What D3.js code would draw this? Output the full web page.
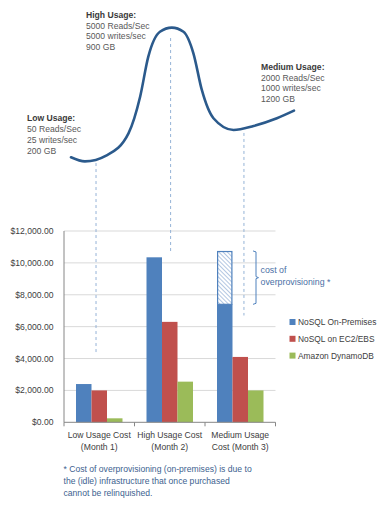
<!DOCTYPE html>
<html><head><meta charset="utf-8">
<script src="https://cdn.jsdelivr.net/npm/d3@7"></script>
<style>
html,body{margin:0;padding:0;background:#fff;}
text{font-family:"Liberation Sans",Arial,sans-serif;}
</style></head>
<body>
<svg id="c" width="384" height="512"></svg>
<script>
// ---- data ----
const categories = ["Low Usage Cost (Month 1)", "High Usage Cost (Month 2)", "Medium Usage Cost (Month 3)"];
const catLines = [["Low Usage Cost","(Month 1)"],["High Usage Cost","(Month 2)"],["Medium Usage","Cost (Month 3)"]];
const seriesNames = ["NoSQL On-Premises", "NoSQL on EC2/EBS", "Amazon DynamoDB"];
const onPremises = [2400, 10350, 7400];
const ec2ebs = [2000, 6300, 4100];
const dynamo = [250, 2550, 2000];
const overprovisionTop = [null, null, 10750];
const yTicks = [0, 2000, 4000, 6000, 8000, 10000, 12000];
// usage curve (day of quarter, relative usage level)
const curveDay = [0, 5.6, 14.4, 23.2, 27.9, 31.2, 35.9, 40.7, 45.4, 49.4, 52.8, 57.5, 65.6, 73.7, 83.1, 90];
const curveUsage = [5.5, 2.6, 6.9, 22.6, 48.8, 77.4, 95.2, 98.1, 95.2, 79.8, 53.6, 33.4, 25, 27.9, 33.4, 38.8];
// dashed connector lines: day, usage at top, dollar value at bottom
const linkDay = [10.1, 40.2, 69.8];
const linkUsage = [1.4, 90.7, 22.9];
const linkDollar = [4250, 10650, 6700];
const usageNotes = [
  ["Low Usage:", "50 Reads/Sec", "25 writes/sec", "200 GB"],
  ["High Usage:", "5000 Reads/Sec", "5000 writes/sec", "900 GB"],
  ["Medium Usage:", "2000 Reads/Sec", "1000 writes/sec", "1200 GB"]
];
const footnote = ["* Cost of overprovisioning (on-premises) is due to", "the (idle) infrastructure that once purchased", "cannot be relinquished."];
const colors = ["#4f81bd", "#c0504d", "#9bbb59"];

const svg = d3.select("#c");
const defs = svg.append("defs");
const pat = defs.append("pattern").attr("id","hatch").attr("patternUnits","userSpaceOnUse")
  .attr("width",3).attr("height",3).attr("patternTransform","rotate(-45)");
pat.append("rect").attr("width",3).attr("height",3).attr("fill","#fff");
pat.append("line").attr("x1",0.5).attr("y1",0).attr("x2",0.5).attr("y2",3).attr("stroke","#b3c7e2").attr("stroke-width",1);

// ---- bar chart ----
const plotL = 64, plotR = 275.5, plotT = 231, plotB = 422.3;
const x0 = d3.scaleBand().domain(categories).range([plotL, plotR]).paddingInner(0).paddingOuter(0);
const groupPad = 12;
const x1 = d3.scaleBand().domain(seriesNames).range([groupPad, x0.bandwidth() - groupPad]);
const y = d3.scaleLinear().domain([0, 12000]).range([plotB, plotT]);

// grid
svg.append("g").selectAll("line").data(yTicks.filter(d => d > 0)).join("line")
  .attr("x1", plotL).attr("x2", plotR).attr("y1", d => y(d)).attr("y2", d => y(d))
  .attr("stroke", "#d9d9d9").attr("stroke-width", 1);

// y labels
svg.append("g").selectAll("text").data(yTicks).join("text")
  .attr("x", 53.5).attr("y", d => y(d)).attr("dy", "0.35em").attr("text-anchor", "end")
  .attr("font-size", 8.6).attr("fill", "#404040").text(d => d3.format("$,.2f")(d));

const allSeries = [onPremises, ec2ebs, dynamo];
const bars = svg.append("g");
categories.forEach((c, ci) => {
  allSeries.forEach((s, si) => {
    const bx = x0(c) + x1(seriesNames[si]);
    bars.append("rect").attr("x", bx).attr("width", x1.bandwidth())
      .attr("y", y(s[ci])).attr("height", y(0) - y(s[ci])).attr("fill", colors[si]);
  });
  if (overprovisionTop[ci] != null) {
    const bx = x0(c) + x1(seriesNames[0]);
    bars.append("rect").attr("x", bx + 0.6).attr("width", x1.bandwidth() - 1.2)
      .attr("y", y(overprovisionTop[ci]) + 0.6).attr("height", y(onPremises[ci]) - y(overprovisionTop[ci]) - 0.6)
      .attr("fill", "url(#hatch)").attr("stroke", colors[0]).attr("stroke-width", 1.2);
  }
});

// axes lines
svg.append("line").attr("x1", plotL).attr("x2", plotL).attr("y1", plotT).attr("y2", plotB).attr("stroke", "#868686");
svg.append("line").attr("x1", plotL).attr("x2", plotR).attr("y1", plotB).attr("y2", plotB).attr("stroke", "#868686");
const bounds = categories.map(c => x0(c)).concat([plotR]);
svg.append("g").selectAll("line").data(bounds).join("line")
  .attr("x1", d => d).attr("x2", d => d).attr("y1", plotB).attr("y2", plotB + 4).attr("stroke", "#868686");

// category labels
categories.forEach((c, ci) => {
  const t = svg.append("text").attr("x", x0(c) + x0.bandwidth() / 2).attr("y", 438)
    .attr("text-anchor", "middle").attr("font-size", 8.6).attr("fill", "#404040");
  catLines[ci].forEach((ln, li) => t.append("tspan").attr("x", x0(c) + x0.bandwidth() / 2).attr("dy", li ? 11.7 : 0).text(ln));
});

// legend
const lg = svg.append("g");
seriesNames.forEach((n, i) => {
  const ly = 322 + i * 16.8;
  lg.append("rect").attr("x", 289.5).attr("y", ly - 3).attr("width", 6).attr("height", 6).attr("fill", colors[i]);
  lg.append("text").attr("x", 298).attr("y", ly).attr("dy", "0.35em").attr("font-size", 8.4).attr("fill", "#404040").text(n);
});

// bracket + label
const bY0 = y(overprovisionTop[2]), bY1 = y(onPremises[2]), bM = (bY0 + bY1) / 2;
svg.append("path").attr("d", `M253,${bY0} L256,${bY0 + 1} L256,${bM - 1} L258.5,${bM} L256,${bM + 1} L256,${bY1 - 1} L253,${bY1}`)
  .attr("fill", "none").attr("stroke", "#4f81bd").attr("stroke-width", 1);
svg.append("text").attr("x", 260.5).attr("y", 273).attr("font-size", 8.8).attr("fill", "#4a6fa5").text("cost of");
svg.append("text").attr("x", 260.5).attr("y", 284.5).attr("font-size", 8.8).attr("fill", "#4a6fa5").text("overprovisioning *");

// ---- usage curve ----
const xc = d3.scaleLinear().domain([0, 90]).range([71, 294]);
const yc = d3.scaleLinear().domain([0, 100]).range([165, 25]);

// dashed links
svg.append("g").selectAll("line").data(linkDay).join("line")
  .attr("x1", d => xc(d)).attr("x2", d => xc(d))
  .attr("y1", (d, i) => yc(linkUsage[i])).attr("y2", (d, i) => y(linkDollar[i]))
  .attr("stroke", "#95b3d7").attr("stroke-width", 1).attr("stroke-dasharray", "3,3");

const pts = curveDay.map((d, i) => [d, curveUsage[i]]);
svg.append("path").datum(pts)
  .attr("d", d3.line().x(d => xc(d[0])).y(d => yc(d[1])).curve(d3.curveMonotoneX))
  .attr("fill", "none").attr("stroke", "#2b5a8c").attr("stroke-width", 2.6).attr("stroke-linecap", "round");

// usage notes
const notePos = [[27, 118.3], [86, 14.7], [261, 66.7]];
usageNotes.forEach((lines, i) => {
  lines.forEach((ln, li) => {
    svg.append("text").attr("x", notePos[i][0]).attr("y", notePos[i][1] + li * 10.8).attr("dy", "0.35em")
      .attr("font-size", 8.6).attr("font-weight", li === 0 ? "bold" : "normal")
      .attr("fill", li === 0 ? "#3a3a3a" : "#595959").text(ln);
  });
});

// footnote
footnote.forEach((ln, i) => {
  svg.append("text").attr("x", 63.5).attr("y", 469 + i * 11.8).attr("dy", "0.35em")
    .attr("font-size", 8.6).attr("fill", "#3d5f8f").text(ln);
});
</script>
</body></html>
